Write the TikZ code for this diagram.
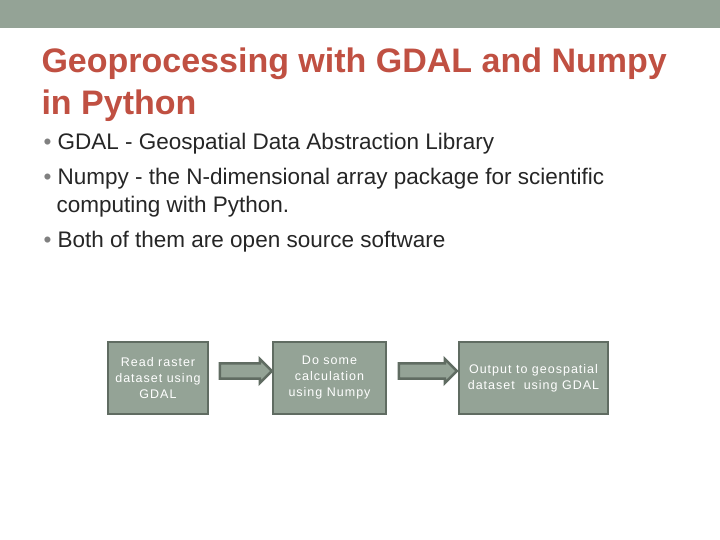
\documentclass[tikz,border=0pt]{standalone}
\usepackage{fontspec}
\setmainfont{Liberation Sans}
\newfontfamily\boxfont[LetterSpace=8]{Liberation Sans}
\usetikzlibrary{positioning,shapes.arrows}
\definecolor{sage}{RGB}{148,163,150}
\definecolor{sagedark}{RGB}{96,108,98}
\definecolor{brick}{RGB}{192,80,66}
\definecolor{ink}{RGB}{38,38,38}
\begin{document}
\begin{tikzpicture}[x=1pt,y=1pt]
	% ------------------------------------------------------------------
	% PAGE & HEADER BAR
	% ------------------------------------------------------------------
	\useasboundingbox (0,0) rectangle (720,540);
	\fill[white] (0,0) rectangle (720,540);
	\fill[sage] (0,512) rectangle (720,540);
	
	% ------------------------------------------------------------------
	% STYLE DEFINITIONS
	% ------------------------------------------------------------------
	\tikzset{
		stepbox/.style = {draw=sagedark, line width=2pt, fill=sage, text=white,
			align=center, minimum height=72pt, inner sep=2pt, font=\boxfont\fontsize{12.5}{16}\selectfont},
		flow/.style    = {single arrow, draw=sagedark, line width=2.5pt, fill=sage,
			minimum height=52pt, minimum width=24pt, single arrow head extend=3pt,
			inner sep=4pt},
		bullet/.style  = {anchor=north west, text=ink, align=left,
			font=\fontsize{22.5}{28}\selectfont}
	}
	
	% --- Title ---
	\node[anchor=north west, text=brick, align=left, font=\bfseries\fontsize{34}{42}\selectfont]
		(title) at (38,496) {Geoprocessing with GDAL and Numpy\\in Python};
	
	% --- Bullets ---
	\node[bullet] (b1) at (40,410) {\textcolor{gray}{•} GDAL - Geospatial Data Abstraction Library};
	\node[bullet] (b2) at (40,375) {\textcolor{gray}{•} Numpy - the N-dimensional array package for scientific};
	\node[bullet] (b2b) at (53,347) {computing with Python.};
	\node[bullet] (b3) at (40,312) {\textcolor{gray}{•} Both of them are open source software};
	
	% --- Flow boxes ---
	\node[stepbox, minimum width=100pt] (read) at (158,162) {Read raster\\dataset using\\GDAL};
	\node[stepbox, minimum width=113pt] (calc) at (329.5,162) {Do some\\calculation\\using Numpy};
	\node[stepbox, minimum width=149pt] (write) at (533.5,162) {Output to geospatial\\dataset\ \ using GDAL};
	
	% --- Arrows between boxes ---
	\node[flow] (a1) at (242,169) {};
	\node[flow, minimum height=58pt] (a2) at (424,169) {};
\end{tikzpicture}
\end{document}
